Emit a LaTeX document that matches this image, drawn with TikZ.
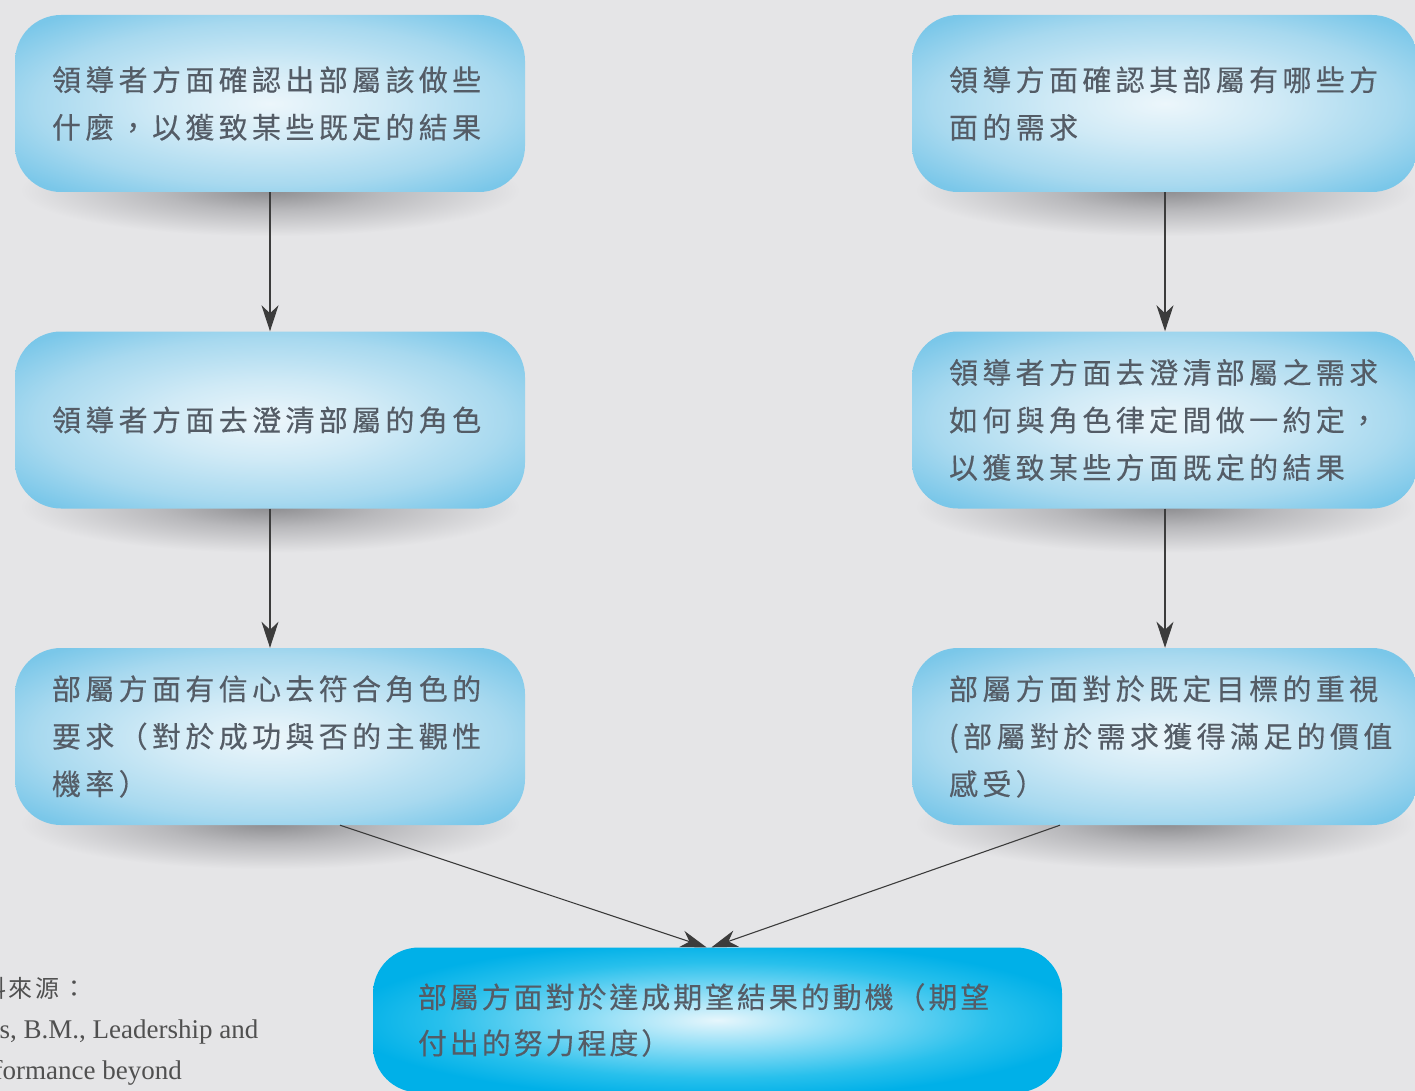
\documentclass[tikz,border=0pt]{standalone}
\usepackage{fontspec}
\setmainfont{Liberation Serif}
\newfontfamily\cjk{Noto Sans CJK TC}[LetterSpace=15,FakeBold=0.3]
\newfontfamily\cjkb{Noto Sans CJK TC}[LetterSpace=10,FakeBold=0.3]
\newfontfamily\cjks{Noto Sans CJK TC}[LetterSpace=12]
\usetikzlibrary{arrows.meta,backgrounds,calc}
\definecolor{bg}{RGB}{229,229,231}
\definecolor{txt}{RGB}{84,92,102}
\definecolor{srct}{RGB}{80,80,80}
\definecolor{linec}{RGB}{60,60,60}
\definecolor{bca}{RGB}{236,246,251}
\definecolor{bcb}{RGB}{208,234,246}
\definecolor{bcc}{RGB}{168,217,239}
\definecolor{bcd}{RGB}{122,199,233}
\definecolor{cca}{RGB}{230,246,252}
\definecolor{ccb}{RGB}{145,222,246}
\definecolor{ccc}{RGB}{40,192,236}
\definecolor{ccd}{RGB}{0,176,232}
\definecolor{sha}{RGB}{140,140,143}
\definecolor{shb}{RGB}{185,185,188}
\pgfdeclareradialshading{boxshade}{\pgfpoint{0bp}{0bp}}{color(0bp)=(bca); color(11bp)=(bcb); color(23bp)=(bcc); color(32bp)=(bcd); color(50bp)=(bcd)}
\pgfdeclareradialshading{mainshade}{\pgfpoint{0bp}{0bp}}{color(0bp)=(cca); color(9bp)=(ccb); color(20bp)=(ccc); color(27bp)=(ccd); color(50bp)=(ccd)}
\pgfdeclareradialshading{shadowshade}{\pgfpoint{0bp}{0bp}}{color(0bp)=(sha); color(11bp)=(shb); color(25bp)=(bg); color(50bp)=(bg)}
\begin{document}
\begin{tikzpicture}[x=1pt,y=-1pt,
  box/.style={rounded corners=46pt, shading=boxshade, minimum height=177pt,
    inner xsep=37pt, inner ysep=0pt, text=txt, align=left,
    font=\cjk\fontsize{29}{47.5}\selectfont},
  lbox/.style={box, text width=436pt},
  rbox/.style={box, text width=432pt},
  mainbox/.style={box, shading=mainshade, text width=599pt, inner xsep=45pt,
    minimum height=145pt, font=\cjkb\fontsize{29}{46}\selectfont},
  boxshadow/.style={shading=shadowshade},
  arr/.style={draw=linec, line width=1.1pt, -{Stealth[length=26pt,width=17pt,inset=8pt]}},
  src/.style={text=srct, align=left, inner sep=0pt, font=\fontsize{27}{41}\selectfont}
]
\useasboundingbox (0,0) rectangle (1415,1091);

\node[lbox] (a1) at (270,103.5) {領導者方面確認出部屬該做些\\什麼，以獲致某些既定的結果};
\node[lbox] (a2) at (270,420) {領導者方面去澄清部屬的角色};
\node[lbox] (a3) at (270,736.5) {部屬方面有信心去符合角色的\\要求（對於成功與否的主觀性\\機率）};
\node[rbox] (b1) at (1165,103.5) {領導方面確認其部屬有哪些方\\面的需求};
\node[rbox] (b2) at (1165,420) {領導者方面去澄清部屬之需求\\如何與角色律定間做一約定，\\以獲致某些方面既定的結果};
\node[rbox] (b3) at (1165,736.5) {部屬方面對於既定目標的重視\\(部屬對於需求獲得滿足的價值\\感受）};
\node[mainbox] (c) at (717.5,1020) {部屬方面對於達成期望結果的動機（期望\\付出的努力程度）};

\node[src, anchor=north west] (s) at (-41,977) {\hspace*{-4pt}{\cjks\fontsize{24}{41}\selectfont 資料來源：}\\Bass, B.M., Leadership and\\performance beyond};

\draw[arr] (a1.south) -- (a2.north);
\draw[arr] (a2.south) -- (a3.north);
\draw[arr] (b1.south) -- (b2.north);
\draw[arr] (b2.south) -- (b3.north);
\draw[arr] ([xshift=70pt]a3.south) -- ([xshift=-11pt]c.north);
\draw[arr] ([xshift=-105pt]b3.south) -- ([xshift=-6pt]c.north);

\begin{scope}[on background layer]
  \fill[bg] (0,0) rectangle (1415,1091);
  \foreach \n in {a1,a2,a3,b1,b2,b3}
    \shade[boxshadow] ([yshift=2pt]\n.south) ellipse [x radius=250pt, y radius=46pt];
\end{scope}
\end{tikzpicture}
\end{document}
